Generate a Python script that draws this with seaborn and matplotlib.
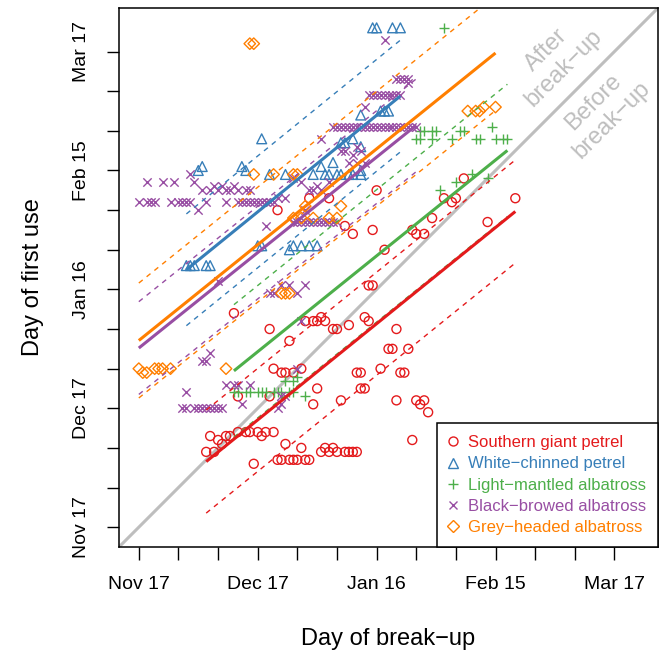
import numpy as np
import pandas as pd
import matplotlib
matplotlib.use("Agg")
import matplotlib.pyplot as plt
import seaborn as sns
from matplotlib.lines import Line2D

# all days counted from 17 Nov (x = break-up, y = first use)
sgp_x = [17, 18, 19, 20, 21, 22, 23, 25, 27, 28, 30, 31, 32, 34, 29,
         37, 41,
         35, 36, 38, 39, 40, 42, 43,
         46, 47, 48, 49, 50, 52, 53, 54, 55,
         34, 36, 37, 39, 41,
         38, 33, 25, 33, 45, 44, 24,
         42, 44, 45, 46, 47, 49, 50, 53, 57, 58, 65,
         55, 56, 61, 66, 67, 56, 57, 51, 65, 70, 71, 72, 73, 69, 63, 64, 68,
         35, 43, 48, 60, 52, 54, 59, 62, 58, 59, 69, 70, 72, 74, 77, 79, 80, 82, 88, 95]
sgp_y = [19, 23, 19, 22, 21, 23, 23, 24, 24, 24, 24, 23, 24, 24, 16,
         21, 20,
         17, 17, 17, 17, 17, 17, 17,
         19, 20, 19, 20, 19, 19, 19, 19, 19,
         40, 39, 39, 39, 40,
         47, 50, 33, 33, 35, 31, 54,
         52, 52, 52, 53, 52, 50, 50, 51, 53, 52, 50,
         39, 39, 40, 39, 39, 35, 35, 32, 32, 32, 31, 32, 29, 22, 45, 45, 45,
         80, 83, 83, 85, 76, 74, 75, 70, 61, 61, 75, 74, 74, 78, 83, 82, 83, 88, 77, 83]

wcp_x = [12, 13, 14, 17, 18, 15, 16, 26, 27, 31, 33, 37, 44,
         30, 31, 38, 39, 41, 43, 45,
         46, 49, 47, 48, 50, 51, 53, 54, 56, 56,
         51, 52, 54, 56, 56, 61, 62, 63, 59, 60, 64, 66]
wcp_y = [66, 66, 66, 66, 66, 90, 91, 91, 90, 98, 89, 89, 89,
         71, 71, 70, 71, 71, 71, 71,
         91, 92, 89, 89, 89, 89, 89, 89, 89, 90,
         97, 97, 98, 96, 104, 105, 105, 105, 126, 126, 126, 126]

lma_x = [24, 25, 27, 28, 30, 31, 32, 34, 35, 36, 38, 39, 42, 37, 39, 40,
         70, 71, 74, 71, 72, 74, 75, 79, 81, 82, 85, 86, 89, 90, 92, 93,
         77, 76, 80, 84, 88]
lma_y = [34, 34, 34, 34, 34, 34, 34, 34, 34, 34, 34, 34, 33, 37, 37, 38,
         98, 98, 98, 100, 100, 100, 100, 98, 100, 100, 98, 98, 101, 98, 98, 98,
         126, 85, 87, 89, 88]

bba_x = [2, 6, 9, 14, 13,
         16, 18, 19, 20, 21, 22, 23, 24, 25, 27, 28,
         0, 2, 3, 4, 8, 10, 11, 12, 13, 15, 17, 22, 25, 26, 27, 28, 29, 30, 31, 32, 33, 34, 35, 37,
         32, 39, 41, 43, 44, 46, 48, 45, 46, 42,
         39, 40, 41, 42, 43, 44, 45, 46, 47, 48, 49, 50,
         49, 50, 51, 52, 53, 54, 55, 56, 57, 58, 59, 60, 61, 62, 63, 64, 65, 66, 67, 68, 69, 70,
         58, 59, 60, 61, 62, 63, 64, 65, 66,
         57, 65, 66, 67, 68, 68, 62,
         51, 52, 54, 55, 56, 53, 55, 57,
         33, 34, 36, 38, 40, 42, 41, 20,
         16, 17, 18, 12,
         11, 12, 14, 15, 16, 17, 18, 19, 20, 21,
         22, 24, 25, 28, 26, 35, 36, 36, 37, 40]
bba_y = [87, 87, 87, 87, 89,
         85, 85, 86, 85, 86, 85, 85, 86, 85, 85, 85,
         82, 82, 82, 82, 82, 82, 82, 82, 82, 80, 82, 82, 82, 82, 82, 82, 82, 82, 82, 82, 82, 82, 83, 83,
         76, 88, 87, 85, 85, 85, 87, 86, 98, 80,
         77, 77, 77, 77, 77, 77, 77, 77, 77, 77, 77, 77,
         101, 101, 101, 101, 101, 101, 101, 101, 101, 101, 101, 101, 101, 101, 101, 101, 101, 101, 101, 101, 101, 101,
         109, 109, 109, 109, 109, 109, 109, 109, 109,
         106, 113, 113, 113, 113, 112, 123,
         95, 95, 94, 96, 95, 92, 92, 92,
         59, 59, 61, 61, 59, 61, 52, 62,
         42, 42, 44, 34,
         30, 30, 30, 30, 30, 30, 30, 30, 30, 30,
         36, 36, 36, 36, 31, 30, 31, 33, 33, 40]

gha_x = [28, 29, 29, 34, 39, 40, 42, 51, 39, 41, 44, 48, 50, 36, 37, 38,
         0, 1, 2, 4, 5, 6, 8, 22, 83, 85, 86, 87, 90]
gha_y = [122, 122, 89, 89, 89, 89, 81, 81, 78, 78, 78, 78, 78, 59, 59, 59,
         40, 39, 39, 40, 40, 40, 40, 40, 105, 105, 105, 106, 106]

species = ["Southern giant petrel", "White\u2212chinned petrel", "Light\u2212mantled albatross",
           "Black\u2212browed albatross", "Grey\u2212headed albatross"]
xs_all = [sgp_x, wcp_x, lma_x, bba_x, gha_x]
ys_all = [sgp_y, wcp_y, lma_y, bba_y, gha_y]

# fitted lines
fit_intercept = [2.8, 55.2, 20.1, 45.2, 47.1]
fit_slope = [0.809, 0.812, 0.806, 0.803, 0.806]
fit_band = [13.0, 14.1, 16.7, 11.7, 14.5]

tick_days = [0, 30, 60, 90, 120]
tick_labels = ["Nov 17", "Dec 17", "Jan 16", "Feb 15", "Mar 17"]

df = pd.concat([pd.DataFrame({"break_up": x, "first_use": y, "species": s})
                for x, y, s in zip(xs_all, ys_all, species)], ignore_index=True)

sns.set_style("ticks")
plt.rcParams["font.family"] = ["Liberation Sans", "DejaVu Sans"]
plt.rcParams["text.color"] = "black"
plt.rcParams["axes.labelcolor"] = "black"
plt.rcParams["xtick.color"] = "black"
plt.rcParams["ytick.color"] = "black"

colors = sns.color_palette("Set1", 5)
markers = ["o", "^", "+", "x", "D"]
msize = {"o": 42, "^": 50, "+": 58, "x": 36, "D": 34}

fig = plt.figure(figsize=(6.7, 6.55), dpi=100)
ax = fig.add_axes([119 / 670, 108 / 655, 539 / 670, 539 / 655])

ax.axline((0, 0), slope=1, color="#BEBEBE", lw=2.2, zorder=1)

for name, col, mk in zip(species, colors, markers):
    d = df[df.species == name]
    if mk in ("+", "x"):
        sns.scatterplot(data=d, x="break_up", y="first_use", marker=mk, color=col,
                        s=msize[mk], linewidth=1.0, ax=ax, zorder=3, legend=False)
    else:
        sns.scatterplot(data=d, x="break_up", y="first_use", marker=mk, color=col,
                        facecolor="none", edgecolor=col, s=msize[mk], linewidth=1.0,
                        ax=ax, zorder=3, legend=False)

for i, (name, col) in enumerate(zip(species, colors)):
    d = df[df.species == name]
    xs = np.array([d.break_up.min(), d.break_up.max()])
    fit = fit_intercept[i] + fit_slope[i] * xs
    for off in (-fit_band[i], fit_band[i]):
        ax.plot(xs, fit + off, color=col, lw=1.0, dashes=(3.6, 3.6), zorder=4)
    ax.plot(xs, fit, color=col, lw=2.2, solid_capstyle="butt", zorder=5)

ax.text(105, 118, "After\nbreak\u2212up", rotation=45, ha="center", va="center",
        color="#BEBEBE", fontsize=17)
ax.text(117, 105, "Before\nbreak\u2212up", rotation=45, ha="center", va="center",
        color="#BEBEBE", fontsize=17)

ax.set_xlim(-5, 131)
ax.set_ylim(-5, 131)
ax.set_xticks(tick_days, tick_labels)
ax.set_yticks(tick_days, tick_labels)
ax.set_xticks(np.arange(0, 121, 10), minor=True)
ax.set_yticks(np.arange(0, 121, 10), minor=True)
ax.tick_params(which="both", direction="out", length=9, width=1.0, color="black")
ax.tick_params(which="major", labelsize=14, pad=12)
plt.setp(ax.get_yticklabels(), rotation=90, va="center")
for sp in ax.spines.values():
    sp.set_visible(True)
    sp.set_linewidth(1.1)
    sp.set_color("black")

ax.set_xlabel("Day of break\u2212up", fontsize=17, labelpad=25)
ax.set_ylabel("Day of first use", fontsize=17, labelpad=21)

handles = [Line2D([], [], ls="none", marker=mk, ms=np.sqrt(msize[mk]), mfc="none",
                  mec=col, mew=1.0, color=col) for mk, col in zip(markers, colors)]
leg = ax.legend(handles, species, loc="lower right", frameon=True, fancybox=False,
                edgecolor="black", framealpha=1, borderaxespad=0, fontsize=12,
                labelcolor=colors, handlelength=0.45, handletextpad=0.7,
                borderpad=0.7, labelspacing=0.38)
leg.get_frame().set_linewidth(1.1)

fig.savefig("out.png", dpi=100)
